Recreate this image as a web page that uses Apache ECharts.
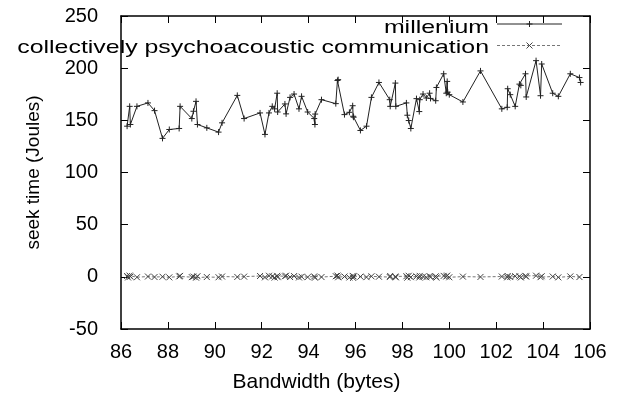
<!DOCTYPE html>
<html><head><meta charset="utf-8">
<script src="https://cdn.jsdelivr.net/npm/echarts@6/dist/echarts.min.js"></script>
<style>html,body{margin:0;padding:0;background:#fff}#c{width:624px;height:398px}</style>
</head><body><div id="c"></div>
<script>
const seriesNames = ['millenium', 'collectively psychoacoustic communication'];
const xTicks = [86, 88, 90, 92, 94, 96, 98, 100, 102, 104, 106];
const yTicks = [-50, 0, 50, 100, 150, 200, 250];

const milleniumX = [86.26,86.37,86.40,86.68,87.15,87.43,87.77,88.06,88.48,88.52,89.02,89.09,89.20,89.26,89.66,90.16,90.31,90.96,91.25,91.93,92.14,92.31,92.45,92.55,92.66,92.68,92.99,93.04,93.21,93.38,93.59,93.70,93.96,94.24,94.27,94.28,94.55,95.16,95.23,95.26,95.53,95.74,95.88,95.90,95.92,96.21,96.47,96.68,97.00,97.46,97.48,97.70,97.72,98.17,98.21,98.27,98.36,98.60,98.72,98.74,98.88,99.02,99.16,99.20,99.42,99.45,99.76,99.87,99.91,99.93,100.00,100.58,101.33,102.24,102.47,102.49,102.60,102.81,102.99,103.05,103.25,103.28,103.70,103.89,103.94,104.41,104.65,105.16,105.55,105.60];
const milleniumY = [144.4,163.4,146,163.4,166.7,159.3,132.7,141.2,142.2,163.4,151.7,158.7,168.2,146,142.8,138.7,147.6,173.9,151.7,157.1,136.5,157.1,163.4,161,176,158,165.7,156.2,172,175.2,161,173,158,151.7,146,156,169.8,166,188.2,189,155.5,157.7,164,153.9,153,140.3,144.4,172,186.3,169.8,163.4,185.7,163.4,166.7,154.9,149.8,142.2,170.8,158.4,169.8,175.2,171.4,176,171,168.8,181.5,194.6,176,187.3,177,174.6,167.6,197.4,161,162.5,180.3,174.6,163.4,184.7,183.5,194.6,172.4,207.2,173.6,204,176,173,194.6,191,186.3];

const commX = [86.26,86.30,86.37,86.40,86.68,87.15,87.43,87.77,88.06,88.48,88.52,89.02,89.09,89.20,89.26,89.66,90.16,90.31,90.96,91.25,91.93,92.14,92.31,92.45,92.55,92.66,92.68,92.99,93.04,93.21,93.38,93.59,93.70,93.96,94.24,94.27,94.55,95.16,95.23,95.26,95.53,95.74,95.88,95.90,95.92,96.21,96.47,96.68,97.00,97.46,97.48,97.70,97.72,98.17,98.21,98.27,98.36,98.60,98.72,98.74,98.88,99.02,99.16,99.20,99.42,99.45,99.76,99.87,99.91,100.00,100.58,101.33,102.24,102.47,102.49,102.60,102.81,102.99,103.05,103.25,103.28,103.70,103.89,103.94,104.41,104.65,105.16,105.55];
const commY = [0.8,-0.6,1.2,0.2,-0.4,0.3,-0.2,0.1,-0.5,0.4,0.9,-0.3,0.2,-0.8,0.6,-0.2,-0.4,0.3,-0.1,0.2,0.8,-0.5,1.0,0.4,-0.7,0.9,-0.3,0.5,1.1,-0.2,0.7,-0.6,0.1,-0.3,0.4,-0.8,-0.2,0.6,1.2,-0.4,0.3,-0.6,0.9,-1.0,0.4,0.2,-0.3,0.5,0.1,-0.2,0.8,0.3,-0.5,0.6,-0.8,1.0,-0.3,0.4,-0.6,0.9,0.2,-0.4,0.7,-0.2,0.5,-0.7,0.9,0.3,1.2,-0.4,0.2,-0.1,0.3,-0.5,0.8,-0.2,0.6,0.4,-0.6,0.9,0.2,1.1,-0.3,0.6,0.3,-0.5,0.4,-0.2];

const FONT = 'Liberation Sans, Arial, sans-serif';
const plusPath = 'path://M5,0L5,10M0,5L10,5';
const crossPath = 'path://M0,0L10,10M10,0L0,10';
const COLOR1 = '#222', COLOR2 = '#777', MARK2 = '#444';

// legend drawn as graphic (text stretched horizontally like the reference)
function legendRow(label, y, textDy, lineColor, dash, marker) {
  const els = [
    {type: 'text', x: 489, y: y + textDy, scaleX: 1.31,
     style: {text: label, font: '19px ' + FONT, fill: '#000', align: 'right', verticalAlign: 'middle'}},
    {type: 'line', shape: {x1: 497, y1: y, x2: 562, y2: y},
     style: {stroke: lineColor, lineWidth: 1, lineDash: dash}}
  ];
  if (marker === 'plus') {
    els.push({type: 'line', shape: {x1: 526.5, y1: y, x2: 532.5, y2: y}, style: {stroke: COLOR1, lineWidth: 1}});
    els.push({type: 'line', shape: {x1: 529.5, y1: y - 3, x2: 529.5, y2: y + 3}, style: {stroke: COLOR1, lineWidth: 1}});
  } else {
    els.push({type: 'line', shape: {x1: 526.5, y1: y - 3, x2: 532.5, y2: y + 3}, style: {stroke: MARK2, lineWidth: 1}});
    els.push({type: 'line', shape: {x1: 532.5, y1: y - 3, x2: 526.5, y2: y + 3}, style: {stroke: MARK2, lineWidth: 1}});
  }
  return els;
}

const chart = echarts.init(document.getElementById('c'), null, {renderer: 'canvas'});
const axisLineStyle = {color: '#000', width: 1.5};
const tickStyle = {show: true, inside: true, length: 7, lineStyle: {color: '#000'}};
chart.setOption({
  animation: false,
  backgroundColor: '#fff',
  grid: {left: 121, right: 34, top: 16, bottom: 67, containLabel: false},
  graphic: [].concat(
    legendRow(seriesNames[0], 24, 3.5, COLOR1, null, 'plus'),
    legendRow(seriesNames[1], 45.5, 2.5, COLOR2, [3, 2], 'cross')
  ),
  xAxis: [{
    type: 'value', min: xTicks[0], max: xTicks[xTicks.length - 1], interval: 2,
    name: 'Bandwidth (bytes)', nameLocation: 'middle', nameGap: 43,
    nameTextStyle: {fontFamily: FONT, fontSize: 21, color: '#000', padding: [0, 78, 0, 0]},
    axisLine: {show: true, onZero: false, lineStyle: axisLineStyle},
    axisTick: tickStyle,
    axisLabel: {fontFamily: FONT, fontSize: 20, color: '#000', margin: 13},
    splitLine: {show: false}
  }, {
    type: 'value', position: 'top', min: xTicks[0], max: xTicks[xTicks.length - 1], interval: 2,
    axisLine: {show: true, onZero: false, lineStyle: axisLineStyle},
    axisTick: tickStyle,
    axisLabel: {show: false}, splitLine: {show: false}
  }],
  yAxis: [{
    type: 'value', min: yTicks[0], max: yTicks[yTicks.length - 1], interval: 50,
    name: 'seek time (Joules)', nameLocation: 'middle', nameGap: 78,
    nameTextStyle: {fontFamily: FONT, fontSize: 19, color: '#000'},
    axisLine: {show: true, onZero: false, lineStyle: axisLineStyle},
    axisTick: tickStyle,
    axisLabel: {fontFamily: FONT, fontSize: 20, color: '#000', margin: 23},
    splitLine: {show: false}
  }, {
    type: 'value', position: 'right', min: yTicks[0], max: yTicks[yTicks.length - 1], interval: 50,
    axisLine: {show: true, onZero: false, lineStyle: axisLineStyle},
    axisTick: tickStyle,
    axisLabel: {show: false}, splitLine: {show: false}
  }],
  series: [{
    name: seriesNames[0], type: 'line',
    data: milleniumX.map((x, i) => [x, milleniumY[i]]),
    symbol: plusPath, symbolSize: 6, showSymbol: true,
    lineStyle: {color: COLOR1, width: 1},
    itemStyle: {color: 'none', borderColor: COLOR1, borderWidth: 1},
    color: COLOR1
  }, {
    name: seriesNames[1], type: 'line',
    data: commX.map((x, i) => [x, commY[i]]),
    symbol: crossPath, symbolSize: 6, showSymbol: true,
    lineStyle: {color: COLOR2, width: 1, type: [3, 2]},
    itemStyle: {color: 'none', borderColor: MARK2, borderWidth: 1},
    color: COLOR2
  }]
});
</script></body></html>
